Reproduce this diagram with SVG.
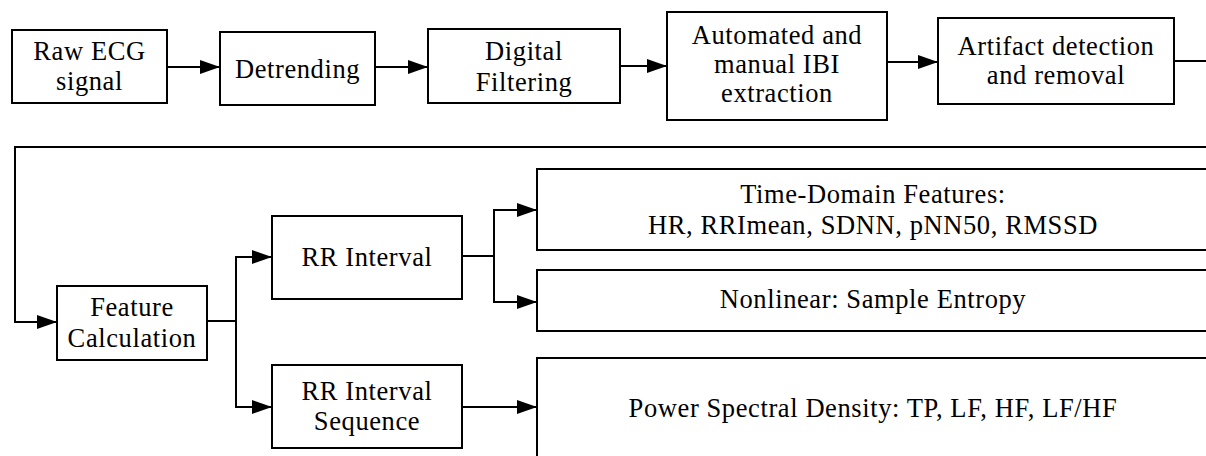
<svg xmlns="http://www.w3.org/2000/svg" width="1206" height="456" viewBox="0 0 1206 456">
<style>
.box{fill:#fff;stroke:#000;stroke-width:2}
.t{font-family:"Liberation Serif","DejaVu Serif",serif;font-size:26.5px;letter-spacing:0.6px;fill:#000;text-anchor:middle}
.c{fill:none;stroke:#000;stroke-width:2}
</style>
<defs>
<marker id="ah" markerWidth="20" markerHeight="14" refX="20" refY="7" orient="auto" markerUnits="userSpaceOnUse">
<path d="M0,0 L20,7 L0,14 Z" fill="#000"/>
</marker>
</defs>
<rect width="1206" height="456" fill="#fff"/>
<g id="connectors">
<path class="c" d="M167,67 H220" marker-end="url(#ah)"/>
<path class="c" d="M375,67 H428" marker-end="url(#ah)"/>
<path class="c" d="M620,66 H667" marker-end="url(#ah)"/>
<path class="c" d="M887,62 H938" marker-end="url(#ah)"/>
<path class="c" d="M1174,61 H1206"/>
<path class="c" d="M1206,147 H15 V322 H57" marker-end="url(#ah)"/>
<path class="c" d="M207,321 H236"/>
<path class="c" d="M236,321 V257 H272" marker-end="url(#ah)"/>
<path class="c" d="M236,321 V407 H272" marker-end="url(#ah)"/>
<path class="c" d="M462,256 H494"/>
<path class="c" d="M494,256 V210 H537" marker-end="url(#ah)"/>
<path class="c" d="M494,256 V302 H537" marker-end="url(#ah)"/>
<path class="c" d="M462,407 H537" marker-end="url(#ah)"/>
</g>
<g id="n1"><rect class="box" x="12" y="30" width="155" height="73"/><text class="t" x="89.5" y="60">Raw ECG</text><text class="t" x="89.5" y="90">signal</text></g>
<g id="n2"><rect class="box" x="220" y="32" width="155" height="73"/><text class="t" x="297.5" y="78">Detrending</text></g>
<g id="n3"><rect class="box" x="428" y="29" width="192" height="74"/><text class="t" x="524" y="60">Digital</text><text class="t" x="524" y="91">Filtering</text></g>
<g id="n4"><rect class="box" x="667" y="12" width="220" height="108"/><text class="t" x="777" y="44">Automated and</text><text class="t" x="777" y="73">manual IBI</text><text class="t" x="777" y="102">extraction</text></g>
<g id="n5"><rect class="box" x="938" y="18" width="236" height="86"/><text class="t" x="1056" y="55">Artifact detection</text><text class="t" x="1056" y="84">and removal</text></g>
<g id="n6"><rect class="box" x="57" y="286" width="150" height="74"/><text class="t" x="132" y="316">Feature</text><text class="t" x="132" y="347">Calculation</text></g>
<g id="n7"><rect class="box" x="272" y="216" width="190" height="83"/><text class="t" x="367" y="266">RR Interval</text></g>
<g id="n8"><rect class="box" x="272" y="365" width="190" height="83"/><text class="t" x="367" y="400">RR Interval</text><text class="t" x="367" y="430">Sequence</text></g>
<g id="n9"><rect class="box" x="537" y="169" width="680" height="81"/><text class="t" x="873" y="203">Time-Domain Features:</text><text class="t" x="873" y="234">HR, RRImean, SDNN, pNN50, RMSSD</text></g>
<g id="n10"><rect class="box" x="537" y="270" width="680" height="61"/><text class="t" x="873" y="308">Nonlinear: Sample Entropy</text></g>
<g id="n11"><rect class="box" x="537" y="358" width="680" height="110"/><text class="t" x="873" y="417">Power Spectral Density: TP, LF, HF, LF/HF</text></g>
</svg>
